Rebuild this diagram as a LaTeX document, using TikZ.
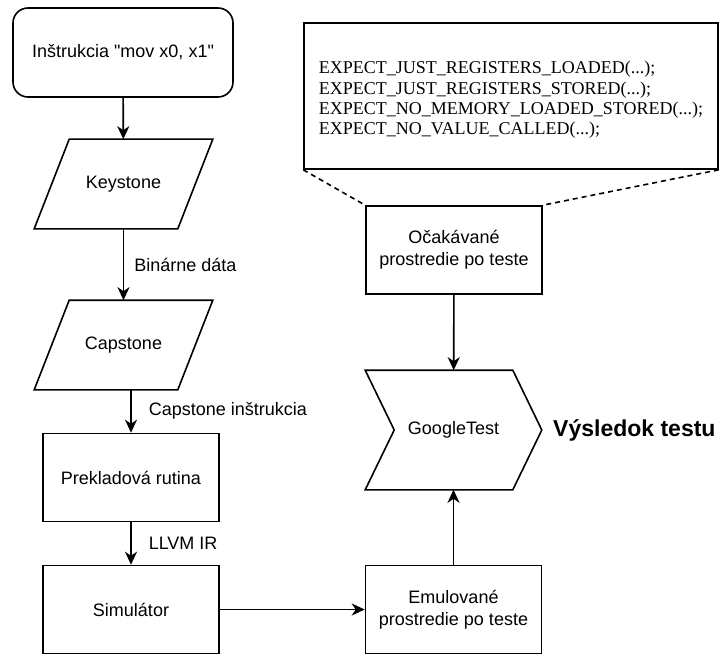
\documentclass[tikz,border=0pt]{standalone}
\usepackage{fontspec}
\setmainfont{Liberation Sans}
\newfontfamily\codefont{Liberation Serif}
\usetikzlibrary{arrows.meta}

\def\w{176pt}
\def\h{88pt}
\def\lw{1.6pt}
\def\sl{17.5pt}
\tikzstyle{box}=[rectangle,draw,line width=\lw,minimum width=\w,minimum height=\h,inner sep=2pt,align=center,font=\fontsize{18}{21.6}\selectfont]
\tikzstyle{start}=[box,rounded corners=15pt,minimum width=220pt,minimum height=89pt]
\tikzstyle{io}=[box,draw=none,minimum width=142pt]
\tikzstyle{flow}=[-{Stealth[length=13pt,width=12pt,inset=4pt]},draw,line width=\lw]
\tikzstyle{lbl}=[font=\fontsize{18}{21.6}\selectfont,inner sep=0pt]
% slanted frame round an io node
\newcommand\ioframe[1]{\draw[line width=\lw]([xshift=\sl]#1.north west)--([xshift=\sl]#1.north east)--([xshift=-\sl]#1.south east)--([xshift=-\sl]#1.south west)--cycle;}

\begin{document}
\begin{tikzpicture}[x=1pt,y=-1pt]
			\useasboundingbox (0,0) rectangle (719,655);
			% left column
			\node[start](instr) at (123,52.5){Inštrukcia \textquotedbl mov x0, x1\textquotedbl};
			\node[io](keys) at (123.5,184){Keystone};
			\node[io](cap) at (123.5,345){Capstone};
			\node[box](prek) at (131,477.5){Prekladová rutina};
			\node[box](sim) at (131,609.5){Simulátor};
			\ioframe{keys}
			\ioframe{cap}
			% right column
			\node[box,minimum width=414pt,minimum height=146pt](code) at (511,96){};
			\node[align=left,inner sep=0pt,font=\codefont\fontsize{18}{20.4}\selectfont](codetxt) at ([yshift=-4pt]code.center){EXPECT\_JUST\_REGISTERS\_LOADED(...);\\EXPECT\_JUST\_REGISTERS\_STORED(...);\\EXPECT\_NO\_MEMORY\_LOADED\_STORED(...);\\EXPECT\_NO\_VALUE\_CALLED(...);};
			\node[box](ocak) at (454,250){Očakávané\\prostredie po teste};
			\node[box,draw=none,minimum width=175pt,minimum height=118pt](gtest) at (453.5,430){GoogleTest};
			\node[box](emu) at (453.5,609.5){Emulované\\prostredie po teste};
			\node[anchor=west,inner sep=0pt,font=\fontsize{23}{28}\selectfont\bfseries](res) at (553,430){Výsledok testu};
			\draw[line width=\lw](gtest.north west)--([xshift=-29pt]gtest.north east)--(gtest.east)--([xshift=-29pt]gtest.south east)--(gtest.south west)--([xshift=29pt]gtest.west)--cycle;
			% connectors
			\draw(instr)edge[flow](keys);
			\draw(keys)edge[flow] node[lbl,right=10pt]{Binárne dáta}(cap);
			\draw(cap.south-|prek.north)edge[flow] node[lbl,right=17pt]{Capstone inštrukcia}(prek.north);
			\draw(prek)edge[flow] node[lbl,right=17pt]{LLVM IR}(sim);
			\draw(sim)edge[flow](emu);
			\draw(emu)edge[flow](gtest);
			\draw(ocak)edge[flow](gtest);
			\draw[line width=\lw,dash pattern=on 5pt off 4pt](code.south west)--(ocak.north west);
			\draw[line width=\lw,dash pattern=on 5pt off 4pt](code.south east)--(ocak.north east);
		\end{tikzpicture}
\end{document}
